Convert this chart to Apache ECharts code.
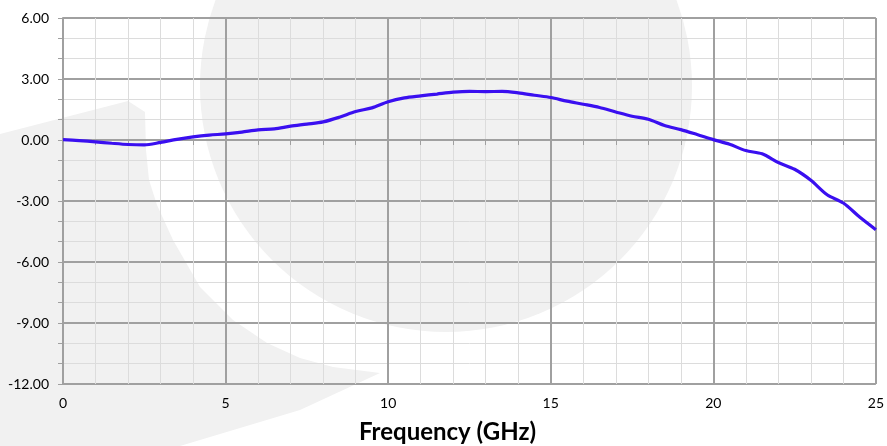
<!DOCTYPE html>
<html>
<head>
<meta charset="utf-8">
<script src="https://cdn.jsdelivr.net/npm/echarts@6/dist/echarts.min.js"></script>
<style>
html,body{margin:0;padding:0;background:#fff;}
#chart{width:887px;height:446px;}
</style>
</head>
<body>
<div id="chart"></div>
<script>
// Frequency (GHz)
var frequencies = [0,0.5,1,1.5,2,2.5,3,3.5,4,4.5,5,5.5,6,6.5,7,7.5,8,8.5,9,9.5,10,10.5,11,11.5,12,12.5,13,13.5,14,14.5,15,15.5,16,16.5,17,17.5,18,18.5,19,19.5,20,20.5,21,21.5,22,22.5,23,23.5,24,24.5,25];
// Response (dB)
var response = [0.02,-0.03,-0.09,-0.16,-0.22,-0.24,-0.12,0.03,0.15,0.24,0.30,0.39,0.50,0.55,0.68,0.78,0.89,1.12,1.40,1.58,1.88,2.07,2.17,2.26,2.35,2.39,2.38,2.39,2.32,2.20,2.09,1.91,1.76,1.60,1.38,1.17,1.02,0.71,0.51,0.27,0.02,-0.21,-0.52,-0.68,-1.11,-1.44,-1.98,-2.69,-3.10,-3.79,-4.41];
var xAxisTitle = 'Frequency (GHz)';

var chart = echarts.init(document.getElementById('chart'), null, {renderer:'canvas'});
var pts = frequencies.map(function(f,i){return [f, response[i]];});
var FONT = 'Lato, "Open Sans", sans-serif';
chart.setOption({
  animation:false,
  backgroundColor:'#ffffff',
  graphic:[
    {type:'circle', z:-10, silent:true, shape:{cx:446, cy:86, r:246}, style:{fill:'#f1f1f1'}},
    {type:'polygon', z:-10, silent:true, shape:{points:[
      [0,134],[128,101],[145,112],[146,150],[149,180],[157,205],[173,240],[200,287],[233,320],[267,343],[300,358],[333,367],[380,373],
      [300,410],[180,446],[0,446]
    ]}, style:{fill:'#f1f1f1'}},
    {type:'text', z:10, left:359, top:420, style:{text:xAxisTitle, font:'bold 24px '+FONT, fill:'#000'}}
  ],
  grid:{left:63, right:8, top:18, bottom:62, containLabel:false},
  xAxis:{
    type:'value', min:0, max:25, interval:5,
    axisLine:{show:true, lineStyle:{color:'#a0a0a0', width:2}},
    axisTick:{show:true, inside:false, length:5, lineStyle:{color:'#a0a0a0', width:1}},
    minorTick:{show:true, splitNumber:5, length:5, lineStyle:{color:'#a0a0a0', width:1}},
    axisLabel:{margin:12, color:'#000', fontSize:14, fontFamily:FONT},
    splitLine:{show:true, lineStyle:{color:'#a0a0a0', width:2}},
    minorSplitLine:{show:true, lineStyle:{color:'#dcdcdc', width:1}}
  },
  yAxis:{
    type:'value', min:-12, max:6, interval:3,
    axisLine:{show:true, lineStyle:{color:'#a0a0a0', width:2}},
    axisTick:{show:true, inside:false, length:5, lineStyle:{color:'#a0a0a0', width:1}},
    minorTick:{show:true, splitNumber:3, length:5, lineStyle:{color:'#a0a0a0', width:1}},
    axisLabel:{margin:14, color:'#000', fontSize:14, fontFamily:FONT, formatter:function(v){return v.toFixed(2);}},
    splitLine:{show:true, lineStyle:{color:'#a0a0a0', width:2}},
    minorSplitLine:{show:true, lineStyle:{color:'#dcdcdc', width:1}}
  },
  series:[{
    type:'line', data:pts, showSymbol:false, smooth:0.3, z:5,
    lineStyle:{color:'#3a0ff0', width:3.2}
  }]
});
</script>
</body>
</html>
